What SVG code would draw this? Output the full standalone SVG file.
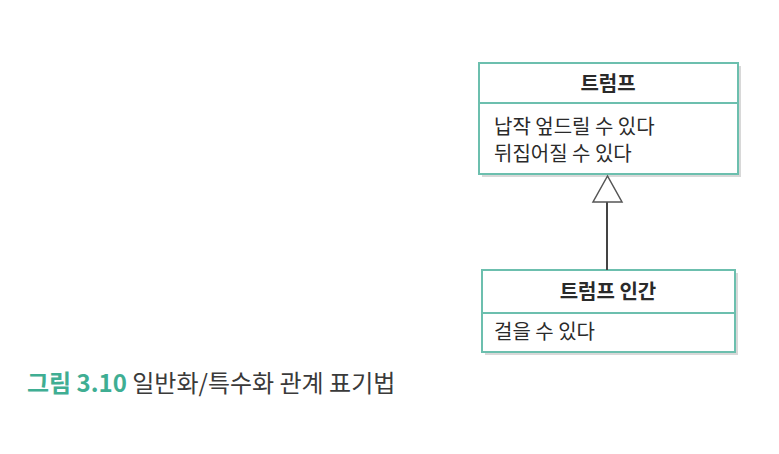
<svg xmlns="http://www.w3.org/2000/svg" width="779" height="454" viewBox="0 0 779 454">
<style>
.box{fill:#ffffff;stroke:#6cbfae;stroke-width:2}
.div{stroke:#6cbfae;stroke-width:2}
.sh{fill:#d8d8d8}
.hd{font-family:"Noto Sans CJK KR","Noto Sans",sans-serif;font-size:20px;font-weight:bold;fill:#2a2a2a;text-anchor:middle}
.bd{font-family:"Noto Sans CJK KR","Noto Sans",sans-serif;font-size:20px;fill:#2a2a2a}
.conn{stroke:#444;stroke-width:2;fill:none}
</style>
<rect width="779" height="454" fill="#ffffff"/>
<g id="trump">
<rect class="sh" x="482" y="66" width="259" height="111"/>
<rect class="box" x="479" y="63" width="259" height="111"/>
<line class="div" x1="479" y1="103" x2="738" y2="103"/>
<text class="hd" x="608" y="91">트럼프</text>
<text class="bd" x="494" y="134">납작 엎드릴 수 있다</text>
<text class="bd" x="494" y="161">뒤집어질 수 있다</text>
</g>
<g id="trump-human">
<rect class="sh" x="485" y="273" width="253" height="82"/>
<rect class="box" x="482" y="270" width="253" height="82"/>
<line class="div" x1="482" y1="313" x2="735" y2="313"/>
<text class="hd" x="608" y="299">트럼프 인간</text>
<text class="bd" x="494" y="339">걸을 수 있다</text>
</g>
<g id="connectors">
<line class="conn" x1="607" y1="202" x2="607" y2="270"/>
<polygon points="607.5,176 593,202 622,202" fill="#ffffff" stroke="#555" stroke-width="1.5"/>
</g>
<g id="caption">
<text x="27" y="392" font-family="Noto Sans CJK KR,Noto Sans,sans-serif" font-size="24" fill="#3a3a3a"><tspan font-weight="bold" fill="#3fae93">그림 3.10</tspan> 일반화/특수화 관계 표기법</text>
</g>
</svg>
